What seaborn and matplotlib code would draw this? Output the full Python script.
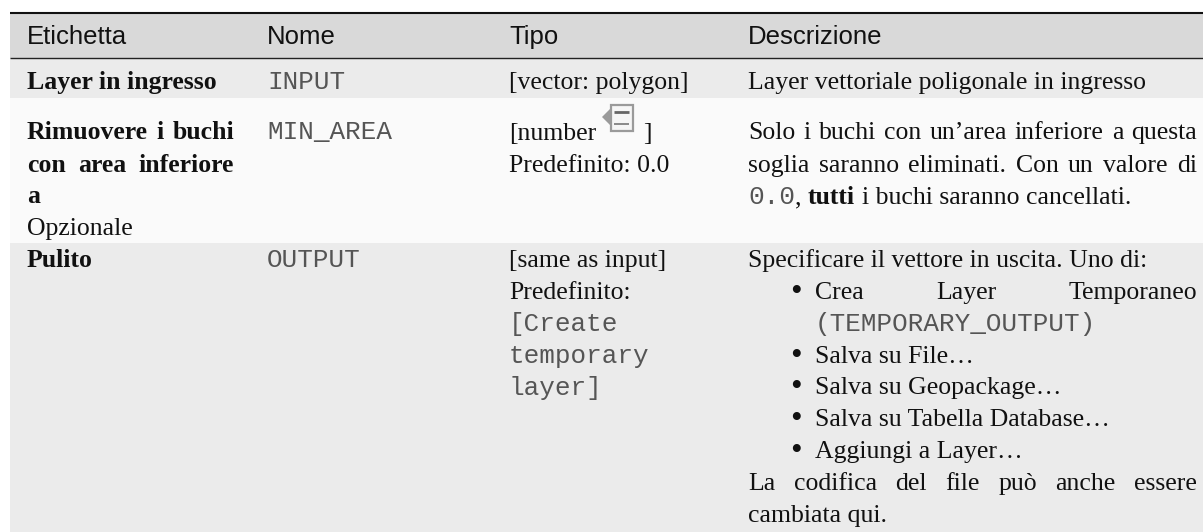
import numpy as np
import matplotlib
matplotlib.use('Agg')
import matplotlib.pyplot as plt
from matplotlib.colors import ListedColormap
from matplotlib.patches import Polygon, Rectangle
import seaborn as sns

# table content
col_labels = ['Etichetta', 'Nome', 'Tipo', 'Descrizione']
etichetta_1 = ['Layer in ingresso']
etichetta_2 = ['Rimuovere i buchi', 'con area inferiore', 'a']
etichetta_3 = ['Pulito']
opzionale = 'Opzionale'
nomi = ['INPUT', 'MIN_AREA', 'OUTPUT']
tipo_1 = '[vector: polygon]'
tipo_2 = ['[number', ']', 'Predefinito: 0.0']
tipo_3 = ['[same as input]', 'Predefinito:']
tipo_3_code = ['[Create', 'temporary', 'layer]']
descr_1 = "Layer vettoriale poligonale in ingresso"
descr_2 = ["Solo i buchi con un\u2019area inferiore a questa",
           "soglia saranno eliminati. Con un valore di"]
descr_2_code = '0.0'
descr_2_end = ',', 'tutti', 'i buchi saranno cancellati.'
descr_3_top = 'Specificare il vettore in uscita. Uno di:'
descr_3_bullets = ['Crea Layer Temporaneo', 'Salva su File\u2026', 'Salva su Geopackage\u2026',
                   'Salva su Tabella Database\u2026', 'Aggiungi a Layer\u2026']
descr_3_code = '(TEMPORARY_OUTPUT)'
descr_3_end = ['La codifica del file pu\u00f2 anche essere', 'cambiata qui.']

# row bands, top to bottom: margin, header, then the three rows
band_shades = [0, 1, 2, 3, 2]
band_heights = [12, 46, 40, 145, 289]
band_colors = ['#ffffff', '#d9d9d9', '#ebebeb', '#fafafa']

W, H = 1203, 532
SERIF = 'Liberation Serif'
SANS = 'Liberation Sans'
MONO = 'Liberation Mono'
INK = '#111111'
CODE_INK = '#555555'
SERIF_PT = 18.5
SANS_PT = 18.5
MONO_PT = 18.7

sns.set_theme(style='white')
fig = plt.figure(figsize=(W / 100, H / 100), dpi=100)
ax = fig.add_axes([0, 0, 1, 1])

# heatmap cells are one pixel each so data coords are image pixels
rows = np.repeat(band_shades, band_heights)
grid = np.tile(rows[:, None], (1, W))
grid[:, :10] = 0
sns.heatmap(grid, ax=ax, cmap=ListedColormap(band_colors), vmin=0, vmax=3,
            cbar=False, xticklabels=False, yticklabels=False)
ax.set_xlim(0, W)
ax.set_ylim(H, 0)
ax.axis('off')

ax.hlines(12.5, 10, W, color='#111111', lw=1.5)
ax.hlines(58, 10, W, color='#222222', lw=1.0)


def put(x, y, s, family=SERIF, size=SERIF_PT, weight='normal', color=INK):
    # text sits about a pixel high otherwise
    return ax.text(x, y + 1, s, family=family, fontsize=size, weight=weight, color=color,
                   ha='left', va='baseline')


def width(t):
    return t.get_window_extent(fig.canvas.get_renderer()).width


def justified(x0, x1, y, line, weight='normal'):
    words = [put(x0, y, w, weight=weight) for w in line.split(' ')]
    total = sum(width(w) for w in words)
    gap = (x1 - x0 - total) / (len(words) - 1)
    x = x0
    for w in words:
        w.set_x(x)
        x += width(w) + gap


col_x = [27, 267, 509, 748]
for x, label in zip(col_x, col_labels):
    put(x, 43, label, family=SANS, size=SANS_PT)

# first column
put(col_x[0], 88, etichetta_1[0], weight='bold')
justified(col_x[0], 234, 138, etichetta_2[0], weight='bold')
justified(col_x[0], 234, 171, etichetta_2[1], weight='bold')
put(col_x[0], 202, etichetta_2[2], weight='bold')
put(col_x[0], 234, opzionale)
put(col_x[0], 266, etichetta_3[0], weight='bold')

# second column
for y, name in zip([88, 138, 266], nomi):
    put(col_x[1], y, name, family=MONO, size=MONO_PT, color=CODE_INK)

# third column
put(col_x[2], 88, tipo_1)
put(col_x[2], 139, tipo_2[0])
put(643.5, 139, tipo_2[1])
put(col_x[2], 171, tipo_2[2])
put(col_x[2], 266, tipo_3[0])
put(col_x[2], 298, tipo_3[1])
for y, s in zip([330, 362, 394], tipo_3_code):
    put(col_x[2], y, s, family=MONO, size=MONO_PT, color=CODE_INK)

# the little data-defined override icon
ax.add_patch(Polygon([[602, 117], [611, 108], [611, 126]], color='#9a9a9a', lw=0))
ax.add_patch(Rectangle((611, 105), 21.5, 26, fc='#f6f6f6', ec='#9a9a9a', lw=1.6))
ax.hlines(112, 614, 629, color='#666666', lw=2)
ax.hlines(124, 614, 629, color='#8a8a8a', lw=1.4)

# fourth column
put(col_x[3], 88, descr_1)
justified(col_x[3], 1197, 138, descr_2[0])
justified(col_x[3], 1197, 171, descr_2[1])
t = put(col_x[3], 203, descr_2_code, family=MONO, size=MONO_PT, color=CODE_INK)
x = col_x[3] + width(t)
t = put(x, 203, descr_2_end[0])
x += width(t) + 6.5
t = put(x, 203, descr_2_end[1], weight='bold')
x += width(t) + 6.5
put(x, 203, descr_2_end[2])

put(col_x[3], 266, descr_3_top)
justified(815, 1197, 298, descr_3_bullets[0])
put(815, 330, descr_3_code, family=MONO, size=MONO_PT, color=CODE_INK)
for y, s in zip([362, 393, 425, 457], descr_3_bullets[1:]):
    put(815, y, s)
for y in [298, 362, 393, 425, 457]:
    put(790, y + 2, '\u2022', size=24)
justified(col_x[3], 1197, 489, descr_3_end[0])
put(col_x[3], 521, descr_3_end[1])

fig.savefig('out.png', dpi=100)
plt.close()
